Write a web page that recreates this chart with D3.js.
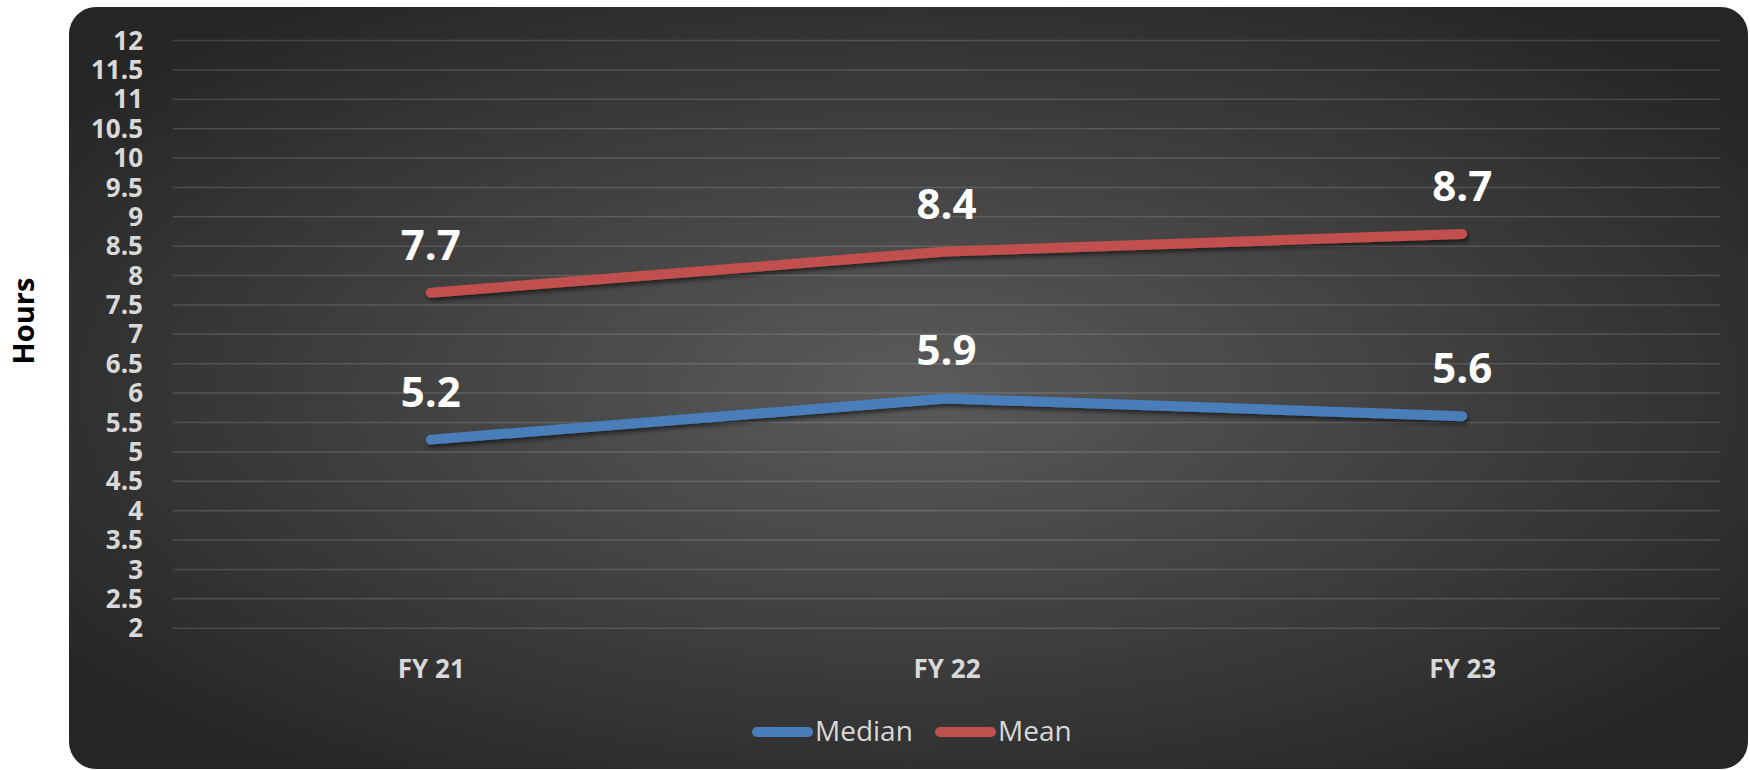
<!DOCTYPE html>
<html>
<head>
<meta charset="utf-8">
<script src="https://cdn.jsdelivr.net/npm/d3@7"></script>
<style>
  html, body { margin: 0; padding: 0; background: #ffffff; }
  svg { display: block; }
  text { font-family: "Open Sans", sans-serif; }
</style>
</head>
<body>
<svg id="chart" width="1750" height="770"></svg>
<script>
const categories = ["FY 21", "FY 22", "FY 23"];
const medianValues = [5.2, 5.9, 5.6];
const meanValues = [7.7, 8.4, 8.7];
const seriesNames = ["Median", "Mean"];
const seriesColors = ["#4A7EBB", "#C0504D"];
const yTicks = [2, 2.5, 3, 3.5, 4, 4.5, 5, 5.5, 6, 6.5, 7, 7.5, 8, 8.5, 9, 9.5, 10, 10.5, 11, 11.5, 12];
const yAxisTitle = "Hours";

const svg = d3.select("#chart");
const defs = svg.append("defs");

const grad = defs.append("radialGradient")
  .attr("id", "bg").attr("cx", "0.5").attr("cy", "0.5").attr("r", "0.62");
grad.append("stop").attr("offset", "0").attr("stop-color", "#5b5b5b");
grad.append("stop").attr("offset", "1").attr("stop-color", "#262626");

const shadow = defs.append("filter").attr("id", "shadow")
  .attr("x", "-10%").attr("y", "-50%").attr("width", "120%").attr("height", "200%");
shadow.append("feDropShadow").attr("dx", 1.5).attr("dy", 3).attr("stdDeviation", 2)
  .attr("flood-color", "#000").attr("flood-opacity", 0.55);

// panel
svg.append("rect")
  .attr("x", 69).attr("y", 7).attr("width", 1679).attr("height", 762)
  .attr("rx", 27).attr("ry", 27)
  .attr("fill", "url(#bg)");

const plotLeft = 173, plotRight = 1720, plotTop = 40, plotBottom = 627.7;

const x = d3.scalePoint().domain(categories).range([plotLeft, plotRight]).padding(0.5);
const y = d3.scaleLinear().domain([2, 12]).range([plotBottom, plotTop]);

// gridlines
const grid = svg.append("g").attr("transform", `translate(${plotLeft},0)`)
  .call(d3.axisLeft(y).tickValues(yTicks).tickSize(-(plotRight - plotLeft)).tickFormat(""));
grid.select(".domain").remove();
grid.selectAll(".tick line").attr("stroke", "#ffffff").attr("stroke-opacity", 0.14).attr("stroke-width", 1.5);

// y labels
const yAxis = svg.append("g").attr("transform", `translate(${plotLeft},0)`)
  .call(d3.axisLeft(y).tickValues(yTicks).tickSize(0).tickPadding(30).tickFormat(d => String(d)));
yAxis.select(".domain").remove();
yAxis.selectAll(".tick text")
  .attr("fill", "#d9d9d9").attr("font-size", 26).attr("font-weight", 700)
  .attr("font-family", "'Open Sans', sans-serif").attr("dy", "0.35em");

// x labels
const xAxis = svg.append("g").attr("transform", `translate(0,${plotBottom})`)
  .call(d3.axisBottom(x).tickSize(0).tickPadding(50));
xAxis.select(".domain").remove();
xAxis.selectAll(".tick text")
  .attr("fill", "#d9d9d9").attr("font-size", 26).attr("font-weight", 700)
  .attr("font-family", "'Open Sans', sans-serif").attr("dy", "0");

// y title
svg.append("text")
  .attr("transform", "translate(34,321) rotate(-90)")
  .attr("text-anchor", "middle")
  .attr("font-size", 29).attr("font-weight", 700).attr("fill", "#000")
  .text(yAxisTitle);

// lines
const series = [medianValues, meanValues];
const line = d3.line().x((d, i) => x(categories[i])).y(d => y(d));
series.forEach((vals, si) => {
  svg.append("path").datum(vals)
    .attr("d", line)
    .attr("fill", "none")
    .attr("stroke", seriesColors[si])
    .attr("stroke-width", 10)
    .attr("stroke-linecap", "round")
    .attr("stroke-linejoin", "round")
    .attr("filter", "url(#shadow)");
});

// data labels
series.forEach((vals, si) => {
  svg.append("g").selectAll("text").data(vals).join("text")
    .attr("x", (d, i) => x(categories[i]))
    .attr("y", d => y(d) - 33)
    .attr("text-anchor", "middle")
    .attr("font-size", 42).attr("font-weight", 700).attr("fill", "#ffffff")
    .text(d => d.toFixed(1));
});

// legend
const legendItems = [
  { name: seriesNames[0], color: seriesColors[0], x1: 757, x2: 808, tx: 815 },
  { name: seriesNames[1], color: seriesColors[1], x1: 940, x2: 991, tx: 998 }
];
const lg = svg.append("g");
legendItems.forEach(it => {
  lg.append("line").attr("x1", it.x1).attr("x2", it.x2).attr("y1", 732).attr("y2", 732)
    .attr("stroke", it.color).attr("stroke-width", 10).attr("stroke-linecap", "round");
  lg.append("text").attr("x", it.tx).attr("y", 741)
    .attr("font-size", 28).attr("fill", "#d9d9d9").text(it.name);
});
</script>
</body>
</html>
